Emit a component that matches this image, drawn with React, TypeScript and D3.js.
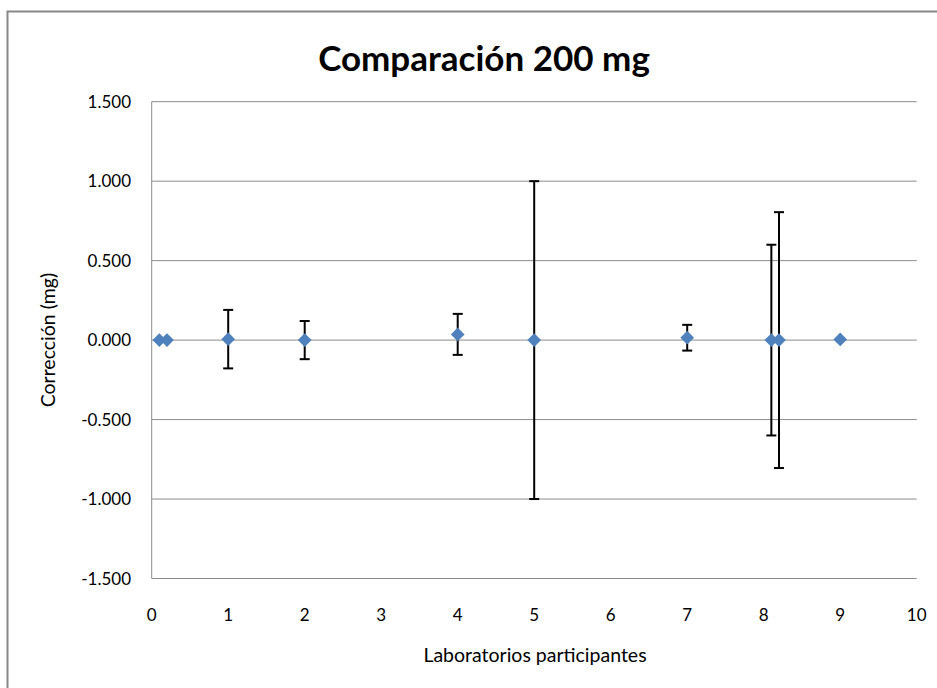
import React from 'react';
import * as d3 from 'd3';

// lab position on the x axis, correction (mg) and expanded uncertainty (mg)
const labX = [0.1, 0.2, 1, 2, 4, 5, 7, 8.1, 8.2, 9];
const corrections = [0, 0, 0.006, 0.0, 0.036, 0.0, 0.015, 0.0, 0.0, 0.004];
const uncertainties = [null, null, 0.184, 0.12, 0.129, 1.0, 0.081, 0.6, 0.805, null];
const yTicks = [-1.5, -1.0, -0.5, 0, 0.5, 1.0, 1.5];
const xTicks = [0, 1, 2, 3, 4, 5, 6, 7, 8, 9, 10];

const W = 937;
const H = 688;
const plot = { left: 151.7, right: 916.7, top: 101.7, bottom: 578.5 };
const font = 'Lato, "Open Sans", sans-serif';
const markerColor = '#4F81BD';

const App: React.FC = () => {
  const x = d3.scaleLinear().domain([0, 10]).range([plot.left, plot.right]);
  const y = d3.scaleLinear().domain([-1.5, 1.5]).range([plot.bottom, plot.top]);
  const fmt = (v: number) => d3.format('.3f')(v).replace('\u2212', '-');
  const diamond = d3.symbol().type(d3.symbolDiamond2).size(120)();

  const points = labX.map((lx, i) => ({ x: lx, y: corrections[i], e: uncertainties[i] }));

  return (
    <div style={{ position: 'fixed', left: 0, top: 0, width: W, height: H, background: '#fff' }}>
      <svg width={W} height={H} style={{ display: 'block' }}>
        <rect x={7.5} y={11.5} width={1000} height={1000} fill="#fff" stroke="#878787" strokeWidth={2} />
        <text x={484} y={71} textAnchor="middle" fontFamily={font} fontWeight="bold" fontSize={35} fill="#000">
          Comparación 200 mg
        </text>

        {/* gridlines */}
        {yTicks.map(t => (
          <line key={t} x1={plot.left} x2={plot.right} y1={y(t)} y2={y(t)} stroke="#8c8c8c" strokeWidth={1} />
        ))}
        <line x1={plot.left} x2={plot.left} y1={plot.top} y2={plot.bottom} stroke="#8c8c8c" strokeWidth={1} />

        {/* y tick labels */}
        {yTicks.map(t => (
          <text key={t} x={131} y={y(t)} dy="0.36em" textAnchor="end" fontFamily={font} fontSize={17} fill="#000">
            {fmt(t)}
          </text>
        ))}
        {/* x tick labels */}
        {xTicks.map(t => (
          <text key={t} x={x(t)} y={615} dy="0.36em" textAnchor="middle" fontFamily={font} fontSize={17} fill="#000">
            {t}
          </text>
        ))}

        <text x={535} y={655} dy="0.36em" textAnchor="middle" fontFamily={font} fontSize={19.5} fill="#000">
          Laboratorios participantes
        </text>
        <text
          transform={`translate(48,${(plot.top + plot.bottom) / 2}) rotate(-90)`}
          dy="0.36em"
          textAnchor="middle"
          fontFamily={font}
          fontSize={19.5}
          fill="#000"
        >
          Corrección (mg)
        </text>

        {/* error bars */}
        {points.filter(p => p.e !== null).map((p, i) => {
          const cx = x(p.x);
          const top = y(p.y + (p.e as number));
          const bot = y(p.y - (p.e as number));
          return (
            <g key={i} stroke="#000" strokeWidth={2}>
              <line x1={cx} x2={cx} y1={top} y2={bot} />
              <line x1={cx - 5} x2={cx + 5} y1={top} y2={top} />
              <line x1={cx - 5} x2={cx + 5} y1={bot} y2={bot} />
            </g>
          );
        })}

        {/* markers drawn over the bars */}
        {points.map((p, i) => (
          <path key={i} d={diamond!} transform={`translate(${x(p.x)},${y(p.y)})`} fill={markerColor} />
        ))}
      </svg>
    </div>
  );
};

export default App;
